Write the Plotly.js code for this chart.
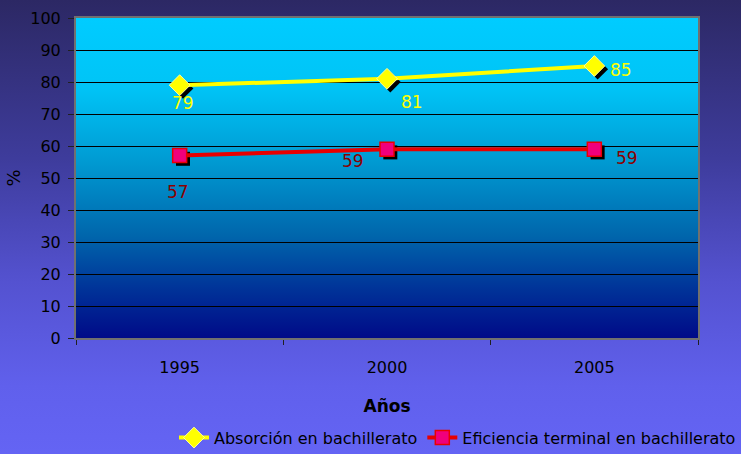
<!DOCTYPE html>
<html>
<head>
<meta charset="utf-8">
<script src="https://cdn.plot.ly/plotly-3.0.1.min.js"></script>
<style>
  html, body { margin:0; padding:0; }
  body { width:741px; height:454px; overflow:hidden;
    background: linear-gradient(to bottom, #2c2864 0%, #3e3c9c 35%, #5452d0 62%, #6060ec 85%, #6464f4 100%); }
  #wrap { position:relative; width:741px; height:454px; }
  #plotbg { position:absolute; left:76px; top:18px; width:622px; height:320px;
    background: linear-gradient(to bottom, #00ccff 0%, #00c4f6 22%, #009ad2 45%, #0066ac 68%, #003298 85%, #000a88 100%); }
  #chart { position:absolute; left:0; top:0; width:741px; height:454px; }
</style>
</head>
<body>
<div id="wrap">
  <div id="plotbg"></div>
  <div id="chart"></div>
</div>
<script>
const years = ['1995', '2000', '2005'];
const absorcion = [79, 81, 85];
const eficiencia = [57, 59, 59];
const yTicks = [0, 10, 20, 30, 40, 50, 60, 70, 80, 90, 100];
const seriesNames = ['Absorción en bachillerato', 'Eficiencia terminal en bachillerato'];

const FONT = 'DejaVu Sans, Verdana, sans-serif';
const dx = 0.016;  // shadow offset (x range shift)
const dy = 1.0;    // shadow offset (y range shift)

const traces = [
  {x: years, y: absorcion, xaxis: 'x', yaxis: 'y', mode: 'lines', opacity: 0, showlegend: false, hoverinfo: 'skip'},
  {x: years, y: absorcion, xaxis: 'x2', yaxis: 'y2', mode: 'markers', showlegend: false, hoverinfo: 'skip',
   marker: {symbol: 'diamond', size: 16, color: '#000000'}},
  {x: years, y: eficiencia, xaxis: 'x2', yaxis: 'y2', mode: 'markers', showlegend: false, hoverinfo: 'skip',
   marker: {symbol: 'square', size: 14, color: '#000000'}},
  {x: years, y: absorcion, xaxis: 'x3', yaxis: 'y3', name: seriesNames[0], mode: 'lines+markers',
   line: {color: '#ffff00', width: 4},
   marker: {symbol: 'diamond', size: 16, color: '#ffff00', line: {color: '#ffffa0', width: 1}}},
  {x: years, y: eficiencia, xaxis: 'x3', yaxis: 'y3', name: seriesNames[1], mode: 'lines+markers',
   line: {color: '#e80000', width: 4},
   marker: {symbol: 'square', size: 14, color: '#f0007c', line: {color: '#e80000', width: 1.5}}}
];

const absShift = [[3, -18], [25, -23], [27, -4]];
const efiShift = [[-2, -36], [-34, -12], [33, -9]];
const annotations = [];
absorcion.forEach((v, i) => annotations.push({
  x: i, y: v, xref: 'x', yref: 'y', text: String(v), showarrow: false,
  xshift: absShift[i][0], yshift: absShift[i][1], font: {family: FONT, size: 17, color: '#ffff00'}
}));
eficiencia.forEach((v, i) => annotations.push({
  x: i, y: v, xref: 'x', yref: 'y', text: String(v), showarrow: false,
  xshift: efiShift[i][0], yshift: efiShift[i][1], font: {family: FONT, size: 17, color: '#8b0000'}
}));

const hidden = {visible: false, showgrid: false, zeroline: false, fixedrange: true};

const layout = {
  width: 741, height: 454,
  margin: {l: 76, r: 43, t: 18, b: 116},
  paper_bgcolor: 'rgba(0,0,0,0)',
  plot_bgcolor: 'rgba(0,0,0,0)',
  font: {family: FONT, size: 16, color: '#000000'},
  xaxis: {type: 'category', range: [-0.5, 2.5], tickson: 'boundaries', ticks: 'outside', ticklen: 5,
    automargin: false, ticklabelstandoff: 14,
    tickcolor: '#202020', showgrid: false, zeroline: false, showline: true, linecolor: '#707070', linewidth: 2,
    mirror: true, tickfont: {family: FONT, size: 16, color: '#000000'},
    title: {text: '<b>Años</b>', font: {family: FONT, size: 17, color: '#000000'}, standoff: 24}},
  yaxis: {range: [0, 100], tickvals: yTicks, ticks: 'outside', ticklen: 6, tickcolor: '#202020',
    automargin: false, ticklabelstandoff: 4,
    showgrid: true, gridcolor: '#000000', gridwidth: 1, zeroline: false,
    showline: true, linecolor: '#707070', linewidth: 2, mirror: true,
    tickfont: {family: FONT, size: 16, color: '#000000'},
    title: {text: '%', font: {family: FONT, size: 18, color: '#000000'}, standoff: 5}},
  xaxis2: Object.assign({type: 'category', range: [-0.5 - dx, 2.5 - dx], anchor: 'y2', overlaying: 'x'}, hidden),
  yaxis2: Object.assign({range: [dy, 100 + dy], anchor: 'x2', overlaying: 'y'}, hidden),
  xaxis3: Object.assign({type: 'category', range: [-0.5, 2.5], anchor: 'y3', overlaying: 'x'}, hidden),
  yaxis3: Object.assign({range: [0, 100], anchor: 'x3', overlaying: 'y'}, hidden),
  showlegend: true,
  legend: {orientation: 'h', xref: 'container', yref: 'container', x: 1.0, xanchor: 'right', y: 0.036, yanchor: 'middle',
    bgcolor: 'rgba(0,0,0,0)', font: {family: FONT, size: 16, color: '#000000'},
    itemwidth: 30, tracegroupgap: 0},
  annotations: annotations
};

Plotly.newPlot('chart', traces, layout, {displayModeBar: false, staticPlot: true});
</script>
</body>
</html>
